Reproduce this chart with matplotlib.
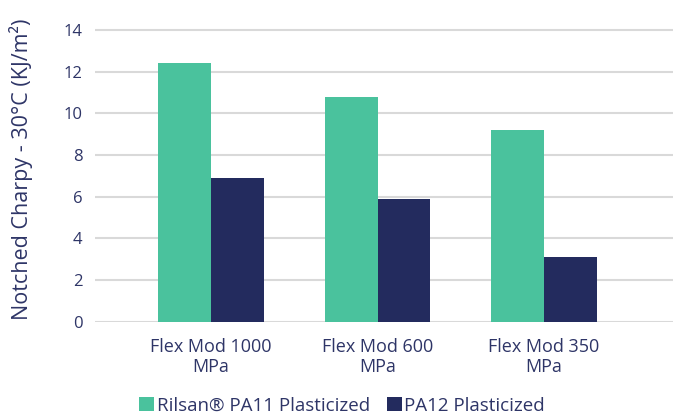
import matplotlib
matplotlib.use("Agg")
import matplotlib.pyplot as plt
from matplotlib.patches import Patch
import numpy as np

categories = ["Flex Mod 1000\nMPa", "Flex Mod 600\nMPa", "Flex Mod 350\nMPa"]
series_names = ["Rilsan® PA11 Plasticized", "PA12 Plasticized"]
pa11_values = [12.4, 10.8, 9.2]
pa12_values = [6.9, 5.9, 3.1]
y_ticks = [0, 2, 4, 6, 8, 10, 12, 14]

GREEN = "#4AC29D"
NAVY = "#232B5E"
TEXT = "#2E3567"
GRID = "#D9D9D9"

plt.rcParams['font.family'] = ['Open Sans', 'DejaVu Sans']

fig = plt.figure(figsize=(6.73, 4.19), dpi=100)
W, H = 673, 419
y0_px, y14_px = 321.5, 30.0
ppu = (y0_px - y14_px) / 14
ymax = 14.5
top_px = y0_px - ymax * ppu
ax = fig.add_axes([95 / W, 1 - y0_px / H, (673 - 95) / W, (y0_px - top_px) / H])

x = np.arange(len(categories))
bw = 0.318
ax.bar(x - bw / 2, pa11_values, width=bw, color=GREEN, zorder=3)
ax.bar(x + bw / 2, pa12_values, width=bw, color=NAVY, zorder=3)

group_px = 166.5
left_units = (211 - 95) / group_px
right_units = (673 - 544) / group_px
ax.set_xlim(-left_units, 2 + right_units)
ax.set_ylim(0, ymax)
ax.set_yticks(y_ticks)
ax.yaxis.grid(True, color=GRID, linewidth=1.5, zorder=0)
ax.set_axisbelow(True)
for s in ax.spines.values():
    s.set_visible(False)
ax.tick_params(axis='both', length=0, colors=TEXT)
ax.tick_params(axis='y', pad=9, labelsize=12)
ax.tick_params(axis='x', pad=12)
ax.set_xticks(x)
ax.set_xticklabels(categories, color=TEXT, fontsize=13, linespacing=1.15)
ax.set_ylabel("Notched Charpy - 30°C (KJ/m²)", color=TEXT, fontsize=15.5)
ax.yaxis.label.set_verticalalignment('center')
ax.yaxis.set_label_coords(-(95 - 21) / (673 - 95), (y0_px - 169) / (y0_px - top_px))

handles = [Patch(facecolor=GREEN, edgecolor='none'), Patch(facecolor=NAVY, edgecolor='none')]
leg = fig.legend(handles, series_names, loc='lower left', bbox_to_anchor=(122 / W, -0.03),
                 ncol=2, frameon=False, fontsize=13.5, handlelength=0.8, handleheight=0.8,
                 handletextpad=0.15, columnspacing=0.9, labelcolor=TEXT)

fig.savefig("out.png", dpi=100)
